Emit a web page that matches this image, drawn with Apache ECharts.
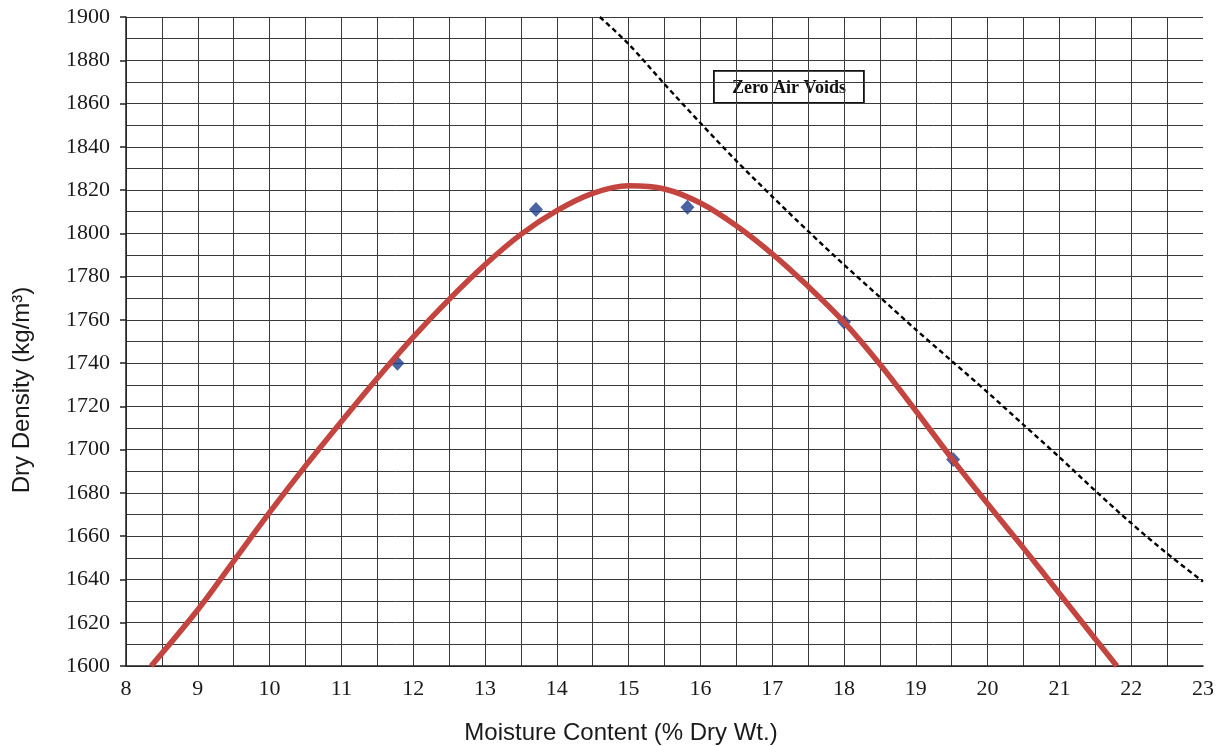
<!DOCTYPE html>
<html>
<head>
<meta charset="utf-8">
<title>Compaction Curve</title>
<script src="https://cdn.jsdelivr.net/npm/echarts@6/dist/echarts.min.js"></script>
<style>
  html, body { margin: 0; padding: 0; background: #ffffff; }
  #chart { width: 1224px; height: 746px; }
</style>
</head>
<body>
<div id="chart"></div>
<script>
// Fitted compaction curve (moisture %, dry density kg/m3)
const fitMoisture = [8.35, 9, 9.5, 10, 10.5, 11, 11.5, 12, 12.5, 13, 13.5, 14, 14.5, 15, 15.5, 16, 16.5, 17, 17.5, 18, 18.5, 19, 19.5, 20, 20.5, 21, 21.5, 21.8];
const fitDensity  = [1600, 1626, 1648.5, 1671, 1692.5, 1713, 1733, 1752, 1769.5, 1785.5, 1799.5, 1810.5, 1818.5, 1822, 1820.5, 1814, 1803.5, 1790.5, 1775.5, 1759, 1739.5, 1718, 1696, 1675, 1654.5, 1633.5, 1612.5, 1600];

// Laboratory test points
const testMoisture = [11.78, 13.71, 15.82, 18.0, 19.52];
const testDensity  = [1740, 1811, 1812, 1759, 1695.5];

// Zero air voids line
const zavMoisture = [14.6, 15, 15.5, 16, 16.5, 17, 17.5, 18, 18.5, 19, 19.5, 20, 20.5, 21, 21.5, 22, 22.5, 23];
const zavDensity  = [1900, 1887.5, 1869, 1851, 1833.5, 1817, 1801, 1785.5, 1770.5, 1755.5, 1741, 1726.5, 1711.5, 1696.5, 1681, 1666, 1652, 1639];

// Axis ranges and tick steps
const xMin = 8, xMax = 23, xStep = 1;
const yMin = 1600, yMax = 1900, yStep = 20;

const pairs = (xs, ys) => xs.map((x, i) => [x, ys[i]]);

const gridLine = { color: '#3a3a3a', width: 1 };
const tickFont = '"Liberation Serif", "Times New Roman", serif';

const chart = echarts.init(document.getElementById('chart'), null, { renderer: 'canvas' });
chart.setOption({
  backgroundColor: '#ffffff',
  animation: false,
  grid: { left: 126, right: 21, top: 17, bottom: 80, containLabel: false },
  xAxis: {
    type: 'value',
    min: xMin, max: xMax, interval: xStep,
    axisLine: { show: true, lineStyle: { color: '#222', width: 1.5 } },
    axisTick: { show: false },
    axisLabel: {
      margin: 12,
      color: '#1a1a1a',
      fontFamily: tickFont,
      fontSize: 22,
      formatter: v => String(v)
    },
    splitLine: { show: true, showMaxLine: false, lineStyle: gridLine },
    minorTick: { show: false, splitNumber: 2 },
    minorSplitLine: { show: true, lineStyle: gridLine }
  },
  yAxis: {
    type: 'value',
    min: yMin, max: yMax, interval: yStep,
    axisLine: { show: true, lineStyle: { color: '#222', width: 1.5 } },
    axisTick: { show: true, inside: false, length: 6, lineStyle: { color: '#222', width: 1.5 } },
    axisLabel: {
      margin: 16,
      color: '#1a1a1a',
      fontFamily: tickFont,
      fontSize: 22,
      formatter: v => String(v)
    },
    splitLine: { show: true, lineStyle: gridLine },
    minorTick: { show: false, splitNumber: 2 },
    minorSplitLine: { show: true, lineStyle: gridLine }
  },
  series: [
    {
      name: 'Zero Air Voids',
      type: 'line',
      data: pairs(zavMoisture, zavDensity),
      smooth: 0.3,
      showSymbol: false,
      symbol: 'none',
      clip: true,
      lineStyle: { color: '#000', width: 2.4, type: [5, 3.5] },
      z: 3
    },
    {
      name: 'Test Data',
      type: 'scatter',
      data: pairs(testMoisture, testDensity),
      symbol: 'diamond',
      symbolSize: [14, 15],
      itemStyle: { color: '#1f3d8a' },
      z: 4
    },
    {
      name: 'Compaction Curve',
      type: 'line',
      data: pairs(fitMoisture, fitDensity),
      smooth: 0.35,
      showSymbol: false,
      symbol: 'none',
      clip: true,
      lineStyle: { color: '#c4443f', width: 5.5, cap: 'butt' },
      z: 5
    }
  ],
  graphic: [
    {
      type: 'group',
      left: 713, top: 70,
      z: 10,
      children: [
        {
          type: 'rect',
          shape: { x: 0, y: 0, width: 150, height: 32 },
          style: { fill: '#ffffff', stroke: '#111', lineWidth: 1.8 }
        },
        {
          type: 'text',
          x: 75, y: 17,
          style: {
            text: 'Zero Air Voids',
            fill: '#111',
            font: 'bold 18px "Liberation Serif", "Times New Roman", serif',
            align: 'center',
            verticalAlign: 'middle'
          }
        }
      ]
    },
    {
      type: 'text',
      x: 621, y: 733,
      z: 10,
      style: {
        text: 'Moisture Content (% Dry Wt.)',
        fill: '#1a1a1a',
        font: '24px "Liberation Sans", Arial, sans-serif',
        align: 'center',
        verticalAlign: 'middle'
      }
    },
    {
      type: 'text',
      x: 22, y: 390,
      rotation: Math.PI / 2,
      z: 10,
      style: {
        text: 'Dry Density (kg/m³)',
        fill: '#1a1a1a',
        font: '24px "Liberation Sans", Arial, sans-serif',
        align: 'center',
        verticalAlign: 'middle'
      }
    }
  ]
});
</script>
</body>
</html>
